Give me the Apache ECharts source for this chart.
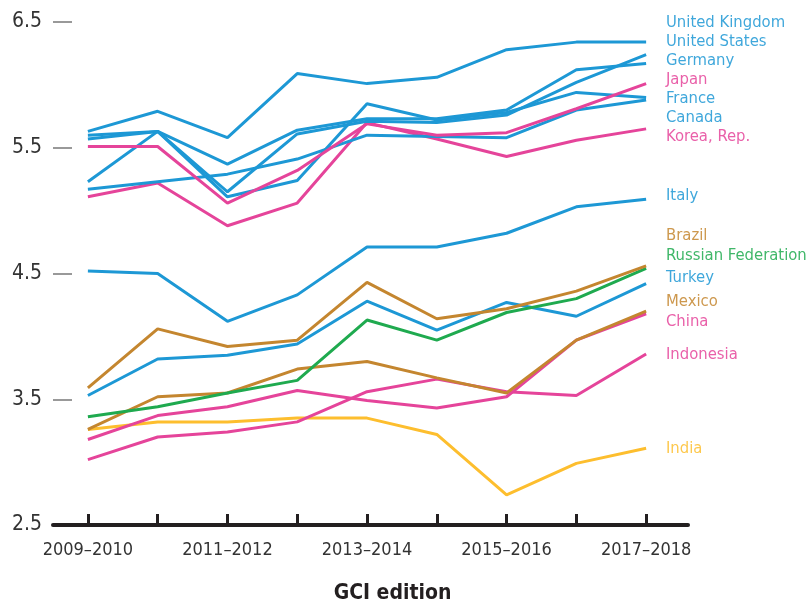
<!DOCTYPE html>
<html>
<head>
<meta charset="utf-8">
<script src="https://cdn.jsdelivr.net/npm/echarts@6/dist/echarts.min.js"></script>
<style>
  html, body { margin: 0; padding: 0; background: #fff; }
  #chart { width: 811px; height: 606px; }
</style>
</head>
<body>
<div id="chart"></div>
<script>
// ---- data ----
const categories = ['2009–2010','2010–2011','2011–2012','2012–2013','2013–2014','2014–2015','2015–2016','2016–2017','2017–2018'];
const labelCategories = [0, 2, 4, 6, 8];
const yTicks = [2.5, 3.5, 4.5, 5.5, 6.5];

const unitedKingdom = [5.63, 5.79, 5.58, 6.09, 6.01, 6.06, 6.28, 6.34, 6.34];
const unitedStates  = [5.57, 5.63, 5.15, 5.61, 5.71, 5.70, 5.76, 6.02, 6.24];
const germany       = [5.60, 5.63, 5.37, 5.64, 5.73, 5.73, 5.80, 6.12, 6.17];
const japan         = [5.51, 5.51, 5.06, 5.32, 5.69, 5.60, 5.62, 5.81, 6.01];
const france        = [5.23, 5.63, 5.11, 5.24, 5.85, 5.72, 5.78, 5.94, 5.90];
const canada        = [5.17, 5.23, 5.29, 5.41, 5.60, 5.59, 5.58, 5.80, 5.88];
const korea         = [5.11, 5.22, 4.88, 5.06, 5.70, 5.57, 5.43, 5.56, 5.65];
const italy         = [4.52, 4.50, 4.12, 4.33, 4.71, 4.71, 4.82, 5.03, 5.09];
const brazil        = [3.59, 4.06, 3.92, 3.97, 4.43, 4.14, 4.22, 4.36, 4.56];
const russia        = [3.36, 3.44, 3.55, 3.65, 4.13, 3.97, 4.19, 4.30, 4.54];
const turkey        = [3.53, 3.82, 3.85, 3.94, 4.28, 4.05, 4.27, 4.16, 4.42];
const mexico        = [3.26, 3.52, 3.55, 3.74, 3.80, 3.67, 3.55, 3.97, 4.20];
const china         = [3.18, 3.37, 3.44, 3.57, 3.49, 3.43, 3.52, 3.97, 4.18];
const indonesia     = [3.02, 3.20, 3.24, 3.32, 3.56, 3.66, 3.56, 3.53, 3.86];
const india         = [3.26, 3.32, 3.32, 3.35, 3.35, 3.22, 2.74, 2.99, 3.11];

// ---- styles ----
const BLUE = '#1d98d5', PINK = '#e5449a', BROWN = '#c4862f', GREEN = '#1faa4f', YELLOW = '#fdbe2e';
const FONT = "'Liberation Sans Narrow', 'DejaVu Sans Condensed', sans-serif";

const seriesDefs = [
  { name: 'India', data: india, color: YELLOW, labelY: 449 },
  { name: 'Indonesia', data: indonesia, color: PINK, labelY: 355 },
  { name: 'China', data: china, color: PINK, labelY: 322 },
  { name: 'Mexico', data: mexico, color: BROWN, labelY: 302 },
  { name: 'Turkey', data: turkey, color: BLUE, labelY: 278 },
  { name: 'Russian Federation', data: russia, color: GREEN, labelY: 256 },
  { name: 'Brazil', data: brazil, color: BROWN, labelY: 236 },
  { name: 'Italy', data: italy, color: BLUE, labelY: 196 },
  { name: 'Korea, Rep.', data: korea, color: PINK, labelY: 137 },
  { name: 'Canada', data: canada, color: BLUE, labelY: 118 },
  { name: 'France', data: france, color: BLUE, labelY: 99 },
  { name: 'Japan', data: japan, color: PINK, labelY: 80 },
  { name: 'Germany', data: germany, color: BLUE, labelY: 61 },
  { name: 'United States', data: unitedStates, color: BLUE, labelY: 42 },
  { name: 'United Kingdom', data: unitedKingdom, color: BLUE, labelY: 23 }
];

const chart = echarts.init(document.getElementById('chart'), null, { renderer: 'canvas' });

const option = {
  animation: false,
  backgroundColor: '#fff',
  grid: { left: 53, right: 811 - 688, top: 22, bottom: 606 - 525, containLabel: false, outerBoundsMode: 'none' },
  xAxis: {
    type: 'value',
    min: -0.5,
    max: 8.6,
    name: 'GCI edition',
    nameLocation: 'middle',
    nameGap: 58,
    nameTextStyle: { fontFamily: FONT, fontSize: 21, color: '#231f20', fontWeight: 'bold', padding: [0, 0, 0, 44] },
    axisLine: { show: true, onZero: false, lineStyle: { color: '#231f20', width: 4 } },
    axisTick: { show: true, inside: true, length: 11, lineStyle: { color: '#231f20', width: 3 },
      customValues: categories.map((c, i) => i) },
    axisLabel: { show: true, margin: 16, fontFamily: FONT, fontSize: 18, color: '#333',
      customValues: labelCategories, formatter: v => categories[Math.round(v)] },
    splitLine: { show: false },
    z: 3
  },
  yAxis: {
    type: 'value',
    min: 2.5,
    max: 6.5,
    interval: 1,
    axisLine: { show: false, onZero: false },
    axisTick: { show: true, inside: true, length: 19, lineStyle: { color: '#999', width: 2 } },
    axisLabel: { margin: 11, fontFamily: FONT, fontSize: 21, color: '#333',
      formatter: v => yTicks.includes(v) ? v.toFixed(1) : '' },
    splitLine: { show: false }
  },
  series: seriesDefs.map(s => ({
    name: s.name,
    type: 'line',
    data: s.data.map((v, i) => [i, v]),
    showSymbol: false,
    symbol: 'none',
    lineStyle: { color: s.color, width: 3 },
    itemStyle: { color: s.color },
    emphasis: { disabled: true }
  })),
  graphic: seriesDefs.map(s => ({
    type: 'text',
    left: 666,
    top: s.labelY - 9,
    style: { text: s.name, fill: s.color, font: "16.5px 'Liberation Sans Narrow', 'DejaVu Sans Condensed', sans-serif", opacity: 0.85 }
  }))
};
chart.setOption(option);
</script>
</body>
</html>
